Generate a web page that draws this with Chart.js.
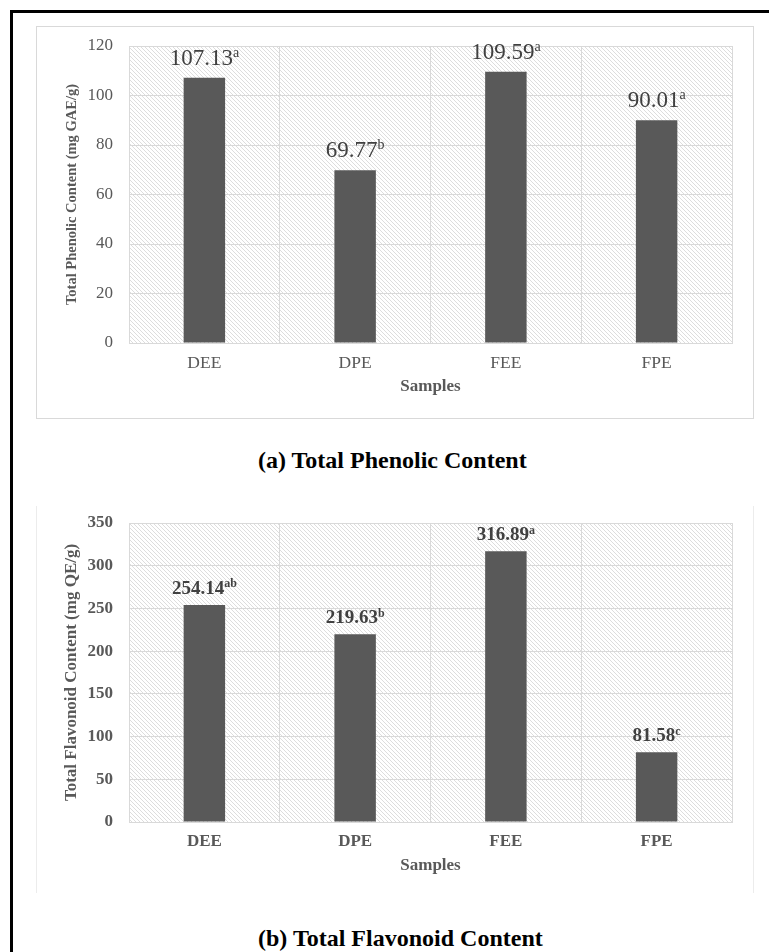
<!DOCTYPE html>
<html>
<head>
<meta charset="utf-8">
<script src="https://cdn.jsdelivr.net/npm/chart.js@4/dist/chart.umd.min.js"></script>
<style>
  html, body { margin: 0; padding: 0; background: #fff; overflow: hidden; }
  body { width: 769px; height: 952px; position: relative; }
  .outer { position: absolute; left: 10px; top: 10px; width: 800px; height: 1000px;
           border-left: 3px solid #000; border-top: 3px solid #000; }
  .frame1 { position: absolute; left: 36px; top: 26px; width: 716px; height: 391px;
            border: 1px solid #d9d9d9; }
  .frame2 { position: absolute; left: 36px; top: 506px; width: 716px; height: 387px;
            border-left: 1px solid #ececec; border-right: 1px solid #ececec; }
  canvas { position: absolute; }
  .caption { position: absolute; font-family: 'Liberation Serif', 'Times New Roman', serif;
             font-weight: bold; font-size: 24px; line-height: 24px; color: #000; white-space: nowrap; }
</style>
</head>
<body>
<div class="outer"></div>
<div class="frame1"></div>
<div class="frame2"></div>
<canvas id="phenolic" width="717" height="392" style="left:36px;top:26px"></canvas>
<canvas id="flavonoid" width="717" height="387" style="left:36px;top:506px"></canvas>
<div class="caption" style="left:258px;top:448px">(a) Total Phenolic Content</div>
<div class="caption" style="left:258px;top:926px">(b) Total Flavonoid Content</div>
<script>
const samples = ['DEE', 'DPE', 'FEE', 'FPE'];

const phenolicValues = [107.13, 69.77, 109.59, 90.01];
const phenolicLetters = ['a', 'b', 'a', 'a'];
const phenolicMax = 120;
const phenolicStep = 20;

const flavonoidValues = [254.14, 219.63, 316.89, 81.58];
const flavonoidLetters = ['ab', 'b', 'a', 'c'];
const flavonoidMax = 350;
const flavonoidStep = 50;

const SERIF = "'Liberation Serif', 'Times New Roman', serif";

// diagonal hatch behind the plot area, like the excel fill
function hatchPattern(ctx) {
  const tile = document.createElement('canvas');
  tile.width = 4; tile.height = 4;
  const t = tile.getContext('2d');
  t.fillStyle = '#ffffff';
  t.fillRect(0, 0, 4, 4);
  t.strokeStyle = '#dddddd';
  t.lineWidth = 1;
  t.beginPath();
  t.moveTo(-1, -1); t.lineTo(5, 5);
  t.moveTo(-1, 3); t.lineTo(1, 5);
  t.moveTo(3, -1); t.lineTo(5, 1);
  t.stroke();
  return ctx.createPattern(tile, 'repeat');
}

const hatchPlugin = {
  id: 'hatch',
  beforeDraw(chart) {
    const { ctx, chartArea: a } = chart;
    ctx.save();
    ctx.fillStyle = hatchPattern(ctx);
    ctx.fillRect(a.left, a.top, a.right - a.left, a.bottom - a.top);
    ctx.restore();
  }
};

// value labels with the significance letter as superscript
const letterLabels = {
  id: 'letterLabels',
  afterDatasetsDraw(chart, args, opts) {
    const { ctx } = chart;
    const meta = chart.getDatasetMeta(0);
    const values = chart.data.datasets[0].data;
    ctx.save();
    ctx.fillStyle = opts.color;
    ctx.textBaseline = 'alphabetic';
    ctx.textAlign = 'left';
    meta.data.forEach((bar, i) => {
      const main = values[i].toFixed(2);
      const sup = opts.letters[i];
      const mainFont = opts.weight + ' ' + opts.size + 'px ' + SERIF;
      const supFont = opts.weight + ' ' + opts.supSize + 'px ' + SERIF;
      ctx.font = mainFont;
      const w1 = ctx.measureText(main).width;
      ctx.font = supFont;
      const w2 = ctx.measureText(sup).width;
      const x0 = bar.x - (w1 + w2) / 2;
      const y0 = bar.y - opts.gap;
      ctx.font = mainFont;
      ctx.fillText(main, x0, y0);
      ctx.font = supFont;
      ctx.fillText(sup, x0 + w1, y0 - opts.size * 0.35);
    });
    ctx.restore();
  }
};

function makeChart(id, values, letters, cfg) {
  new Chart(document.getElementById(id), {
    type: 'bar',
    data: {
      labels: samples,
      datasets: [{
        data: values,
        backgroundColor: '#595959',
        borderWidth: 0,
        barPercentage: 0.275,
        categoryPercentage: 1
      }]
    },
    plugins: [hatchPlugin, letterLabels],
    options: {
      responsive: false,
      animation: false,
      layout: { padding: { top: cfg.padTop, right: 21, left: 0, bottom: 0 } },
      plugins: {
        legend: { display: false },
        tooltip: { enabled: false },
        letterLabels: {
          letters: letters, color: '#404040', weight: cfg.labelWeight,
          size: cfg.labelSize, supSize: cfg.supSize, gap: cfg.labelGap
        }
      },
      scales: {
        x: {
          afterFit: s => { s.height = cfg.xHeight; },
          grid: { color: '#d9d9d9', drawTicks: false, offset: true },
          border: { color: '#d9d9d9' },
          ticks: {
            color: '#595959', padding: cfg.xTickPad,
            font: { family: SERIF, size: cfg.xTickSize, weight: cfg.tickWeight }
          },
          title: {
            display: true, text: 'Samples', color: '#595959',
            font: { family: SERIF, size: 17, weight: 'bold' },
            padding: { top: 0, bottom: cfg.samplesPad }
          }
        },
        y: {
          min: 0, max: cfg.max,
          // fixed axis width, and no extra room for the top label
          afterFit: s => { s.width = 93; s.paddingTop = 0; s.paddingBottom = 0; },
          grid: { color: '#d9d9d9', drawTicks: false },
          border: { color: '#d9d9d9' },
          ticks: {
            stepSize: cfg.step, color: '#595959', padding: 16,
            font: { family: SERIF, size: 17, weight: cfg.tickWeight }
          },
          title: {
            display: true, text: cfg.yTitle, color: '#595959',
            font: { family: SERIF, size: cfg.yTitleSize, weight: 'bold' },
            padding: { top: 36 - cfg.yTitleSize * 0.6, bottom: 0 }
          }
        }
      }
    }
  });
}

makeChart('phenolic', phenolicValues, phenolicLetters, {
  max: phenolicMax, step: phenolicStep, padTop: 20, xHeight: 75,
  xTickPad: 9.5, xTickSize: 17.5, tickWeight: 'normal', samplesPad: 20.8,
  yTitle: 'Total Phenolic Content (mg GAE/g)', yTitleSize: 14.5,
  labelWeight: 'normal', labelSize: 23, supSize: 14, labelGap: 13
});

makeChart('flavonoid', flavonoidValues, flavonoidLetters, {
  max: flavonoidMax, step: flavonoidStep, padTop: 17, xHeight: 71,
  xTickPad: 9.8, xTickSize: 17, tickWeight: 'bold', samplesPad: 16.8,
  yTitle: 'Total Flavonoid Content (mg QE/g)', yTitleSize: 17,
  labelWeight: 'bold', labelSize: 19, supSize: 12, labelGap: 11
});
</script>
</body>
</html>
